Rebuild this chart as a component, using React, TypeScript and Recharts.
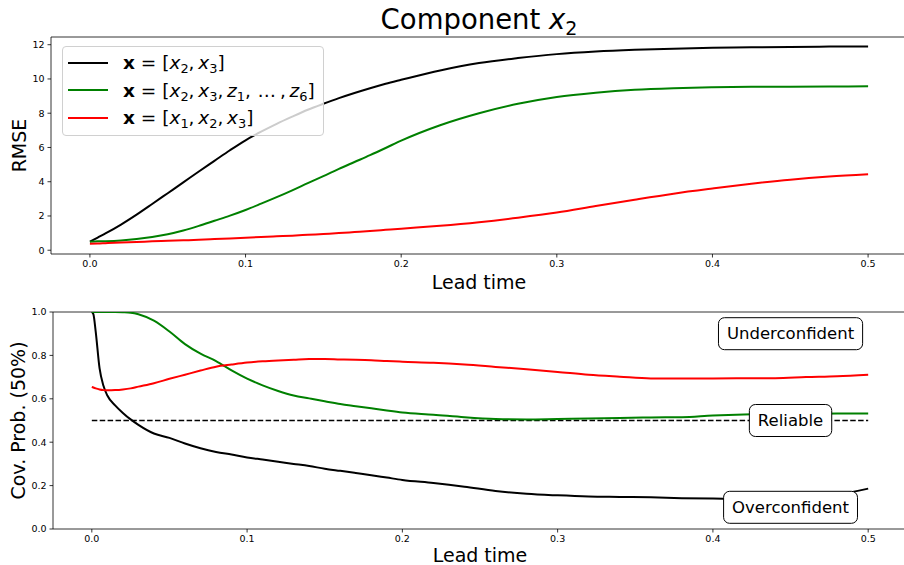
import React from "react";
import {
  LineChart, Line, XAxis, YAxis, Legend, Label, ReferenceLine, ReferenceDot,
} from "recharts";

const FONT = "'DejaVu Sans', sans-serif";

// --- RMSE panel -----------------------------------------------------------
const rmseLead = [
  0, 0.005, 0.01, 0.02, 0.03, 0.04, 0.05, 0.06, 0.07, 0.08, 0.09, 0.1, 0.11,
  0.12, 0.13, 0.14, 0.15, 0.16, 0.17, 0.18, 0.19, 0.2, 0.225, 0.25, 0.275, 0.3,
  0.325, 0.35, 0.375, 0.4, 0.425, 0.45, 0.475, 0.5,
];
const rmseX2X3 = [
  0.5, 0.74, 0.98, 1.5, 2.08, 2.7, 3.33, 3.96, 4.6, 5.22, 5.84, 6.42, 6.92,
  7.38, 7.8, 8.2, 8.55, 8.88, 9.18, 9.46, 9.72, 9.95, 10.5, 10.93, 11.22, 11.45,
  11.6, 11.7, 11.77, 11.82, 11.85, 11.87, 11.89, 11.9,
];
const rmseX2X3Z = [
  0.5, 0.52, 0.53, 0.57, 0.65, 0.77, 0.93, 1.15, 1.42, 1.72, 2.02, 2.35, 2.72,
  3.1, 3.5, 3.92, 4.33, 4.75, 5.15, 5.55, 5.97, 6.4, 7.3, 8.0, 8.55, 8.95,
  9.2, 9.37, 9.46, 9.51, 9.54, 9.55, 9.56, 9.57,
];
const rmseX1X2X3 = [
  0.38, 0.39, 0.41, 0.45, 0.48, 0.52, 0.55, 0.58, 0.61, 0.65, 0.69, 0.73, 0.77,
  0.81, 0.85, 0.9, 0.95, 1.0, 1.06, 1.12, 1.19, 1.26, 1.43, 1.64, 1.9, 2.2,
  2.58, 2.95, 3.3, 3.6, 3.88, 4.12, 4.3, 4.43,
];

// --- coverage panel -------------------------------------------------------
const covLead = [
  0, 0.001, 0.0025, 0.005, 0.0075, 0.01, 0.015, 0.02, 0.025, 0.03, 0.04, 0.05,
  0.06, 0.07, 0.08, 0.09, 0.1, 0.11, 0.12, 0.13, 0.14, 0.15, 0.16, 0.17, 0.18,
  0.19, 0.2, 0.22, 0.24, 0.26, 0.28, 0.3, 0.32, 0.34, 0.36, 0.38, 0.4, 0.42,
  0.44, 0.46, 0.48, 0.5,
];
const covX2X3 = [
  1.0, 0.99, 0.91, 0.74, 0.66, 0.615, 0.57, 0.535, 0.505, 0.48, 0.44, 0.42,
  0.394, 0.372, 0.355, 0.343, 0.33, 0.32, 0.31, 0.3, 0.29, 0.278, 0.268, 0.258,
  0.248, 0.237, 0.226, 0.212, 0.195, 0.175, 0.162, 0.155, 0.15, 0.148, 0.146,
  0.142, 0.14, 0.138, 0.14, 0.145, 0.158, 0.186,
];
const covX2X3Z = [
  1.0, 1.0, 1.0, 1.0, 1.0, 1.0, 1.0, 0.999, 0.997, 0.99, 0.96, 0.91, 0.852,
  0.808, 0.774, 0.731, 0.693, 0.662, 0.636, 0.615, 0.602, 0.589, 0.576, 0.566,
  0.556, 0.546, 0.537, 0.527, 0.515, 0.507, 0.505, 0.507, 0.509, 0.512, 0.514,
  0.515, 0.523, 0.528, 0.53, 0.531, 0.532, 0.532,
];
const covX1X2X3 = [
  0.655, 0.652, 0.648, 0.643, 0.64, 0.639, 0.64, 0.643, 0.648, 0.656, 0.672,
  0.692, 0.711, 0.73, 0.748, 0.758, 0.767, 0.773, 0.777, 0.78, 0.783, 0.783,
  0.781, 0.78, 0.778, 0.774, 0.771, 0.766, 0.758, 0.747, 0.736, 0.724, 0.711,
  0.702, 0.694, 0.693, 0.694, 0.695, 0.695, 0.7, 0.704, 0.711,
];

const leadTicks = [0, 0.1, 0.2, 0.3, 0.4, 0.5];
const rmseTicks = [0, 2, 4, 6, 8, 10, 12];
const covTicks = [0, 0.2, 0.4, 0.6, 0.8, 1.0];
const reliableLevel = 0.5;

const noteText = ["Underconfident", "Reliable", "Overconfident"];
const noteLead = [0.45, 0.45, 0.45];
const noteCov = [0.9, 0.5, 0.1];

// inputs of each model, [symbol, subscript]
const inputsX2X3 = [["x", "2"], ["x", "3"]];
const inputsX2X3Z = [["x", "2"], ["x", "3"], ["z", "1"], ["…", ""], ["z", "6"]];
const inputsX1X2X3 = [["x", "1"], ["x", "2"], ["x", "3"]];

const SERIES = [
  { key: "a", color: "#000000", inputs: inputsX2X3 },
  { key: "b", color: "#008000", inputs: inputsX2X3Z },
  { key: "c", color: "#ff0000", inputs: inputsX1X2X3 },
];

const rmseRows = rmseLead.map((t, i) => ({
  t, a: rmseX2X3[i], b: rmseX2X3Z[i], c: rmseX1X2X3[i],
}));
const covRows = covLead.map((t, i) => ({
  t, a: covX2X3[i], b: covX2X3Z[i], c: covX1X2X3[i],
}));

const X_DOMAIN = [-0.025, 0.525];
const RMSE_DOMAIN = [-0.22, 12.45];
const COV_DOMAIN = [0, 1];
const axisStroke = { stroke: "#000", strokeWidth: 0.8 };
const tickStyle = { fontSize: 9.5, fill: "#000", fontFamily: FONT };

function textWidth(s: string, font: string) {
  const ctx = document.createElement("canvas").getContext("2d");
  if (!ctx) return s.length * 9;
  ctx.font = font;
  return ctx.measureText(s).width;
}

const subStyle: React.CSSProperties = {
  fontSize: "0.7em", position: "relative", top: "0.32em", fontStyle: "normal",
};

function MathLabel({ inputs }: { inputs: string[][] }) {
  return (
    <span>
      <span style={{ fontWeight: 700 }}>x</span>
      {" = ["}
      {inputs.map(([b, s], i) => (
        <React.Fragment key={i}>
          {i > 0 && ",\u2009"}
          {s ? (
            <>
              <span style={{ fontStyle: "italic" }}>{b}</span>
              <span style={subStyle}>{s}</span>
            </>
          ) : (
            <span style={{ margin: "0 4px 0 3px" }}>{b}</span>
          )}
        </React.Fragment>
      ))}
      {"]"}
    </span>
  );
}

function LegendBox() {
  return (
    <div
      style={{
        boxSizing: "border-box", width: 262, height: 90, padding: "2px 0 0 0",
        background: "rgba(255,255,255,0.8)", border: "1px solid #d0d0d0",
        borderRadius: 4, fontFamily: FONT, fontSize: 18.5, color: "#000",
      }}
    >
      {SERIES.map((s) => (
        <div key={s.key} style={{ height: 27.5, display: "flex", alignItems: "center" }}>
          <div style={{ width: 40, height: 2, background: s.color, marginLeft: 5, marginRight: 15 }} />
          <MathLabel inputs={s.inputs} />
        </div>
      ))}
    </div>
  );
}

const xLabel = (drop: number) => (props: any) => {
  const vb = props.viewBox;
  return (
    <text x={vb.x + vb.width / 2} y={vb.y + drop} textAnchor="middle"
      fontSize={19} fontFamily={FONT} fill="#000">Lead time</text>
  );
};

const yLabel = (text: string, x: number) => (props: any) => {
  const vb = props.viewBox;
  const cy = vb.y + vb.height / 2;
  return (
    <text x={x} y={cy} transform={`rotate(-90 ${x} ${cy})`} textAnchor="middle"
      fontSize={19} fontFamily={FONT} fill="#000">{text}</text>
  );
};

const titleLabel = (props: any) => {
  const vb = props.viewBox;
  return (
    <text x={vb.x + vb.width / 2} y={vb.y - 8} textAnchor="middle"
      fontSize={27.5} fontFamily={FONT} fill="#000">
      <tspan>Component </tspan>
      <tspan fontStyle="italic">x</tspan>
      <tspan fontSize={19} dy={6}>2</tspan>
    </text>
  );
};

const noteBox = (text: string) => (props: any) => {
  const { cx, cy } = props;
  const w = textWidth(text, `16.5px ${FONT}`) + 17;
  return (
    <g>
      <rect x={cx - w / 2} y={cy - 16} width={w} height={32} rx={6} ry={6}
        fill="#fff" stroke="#000" strokeWidth={1} />
      <text x={cx} y={cy} textAnchor="middle" dominantBaseline="central"
        fontSize={16.5} fontFamily={FONT} fill="#000">{text}</text>
    </g>
  );
};

export default function App() {
  const fmt = (v: number) => v.toFixed(1);
  return (
    <div style={{ position: "absolute", left: 0, top: 0, width: 904, height: 565, overflow: "hidden", background: "#fff" }}>
      <div style={{ position: "absolute", left: 0, top: 0 }}>
        <LineChart width={930} height={298} data={rmseRows}
          margin={{ top: 37, right: 23, bottom: 8, left: 0 }}>
          <XAxis dataKey="t" type="number" domain={X_DOMAIN} ticks={leadTicks}
            allowDataOverflow tickFormatter={fmt} height={36} tickSize={3.5}
            tickMargin={3} axisLine={axisStroke} tickLine={axisStroke} tick={tickStyle}>
            <Label content={xLabel(35)} />
          </XAxis>
          <YAxis type="number" domain={RMSE_DOMAIN} ticks={rmseTicks}
            allowDataOverflow width={51} tickSize={3.5} tickMargin={3}
            axisLine={axisStroke} tickLine={axisStroke} tick={tickStyle}>
            <Label content={yLabel("RMSE", 26)} />
          </YAxis>
          <ReferenceLine y={RMSE_DOMAIN[1]} stroke="#000" strokeWidth={0.8}
            label={<Label content={titleLabel} />} />
          {SERIES.map((s) => (
            <Line key={s.key} dataKey={s.key} name={s.key} type="monotone"
              stroke={s.color} strokeWidth={2} dot={false} activeDot={false}
              isAnimationActive={false} />
          ))}
          <Legend content={() => <LegendBox />} layout="horizontal"
            verticalAlign="middle" align="center"
            wrapperStyle={{ left: 62, top: 46, width: "auto", height: "auto" }} />
        </LineChart>
      </div>
      <div style={{ position: "absolute", left: 0, top: 290 }}>
        <LineChart width={930} height={283} data={covRows}
          margin={{ top: 22, right: 23, bottom: 8, left: 0 }}>
          <XAxis dataKey="t" type="number" domain={X_DOMAIN} ticks={leadTicks}
            allowDataOverflow tickFormatter={fmt} height={36} tickSize={3.5}
            tickMargin={3} axisLine={axisStroke} tickLine={axisStroke} tick={tickStyle}>
            <Label content={xLabel(32.5)} />
          </XAxis>
          <YAxis type="number" domain={COV_DOMAIN} ticks={covTicks} allowDataOverflow
            width={53} tickSize={3.5} tickMargin={3} tickFormatter={fmt}
            axisLine={axisStroke} tickLine={axisStroke} tick={tickStyle}>
            <Label content={yLabel("Cov. Prob. (50%)", 24.5)} />
          </YAxis>
          <ReferenceLine y={COV_DOMAIN[1]} stroke="#000" strokeWidth={0.8} />
          <ReferenceLine segment={[{ x: 0, y: reliableLevel }, { x: 0.5, y: reliableLevel }]}
            stroke="#000" strokeWidth={1.5} strokeDasharray="5.5 2.4" />
          {SERIES.map((s) => (
            <Line key={s.key} dataKey={s.key} name={s.key} type="monotone"
              stroke={s.color} strokeWidth={2} dot={false} activeDot={false}
              isAnimationActive={false} />
          ))}
          {noteText.map((txt, i) => (
            <ReferenceDot key={txt} x={noteLead[i]} y={noteCov[i]} r={0}
              shape={noteBox(txt)} />
          ))}
        </LineChart>
      </div>
    </div>
  );
}
